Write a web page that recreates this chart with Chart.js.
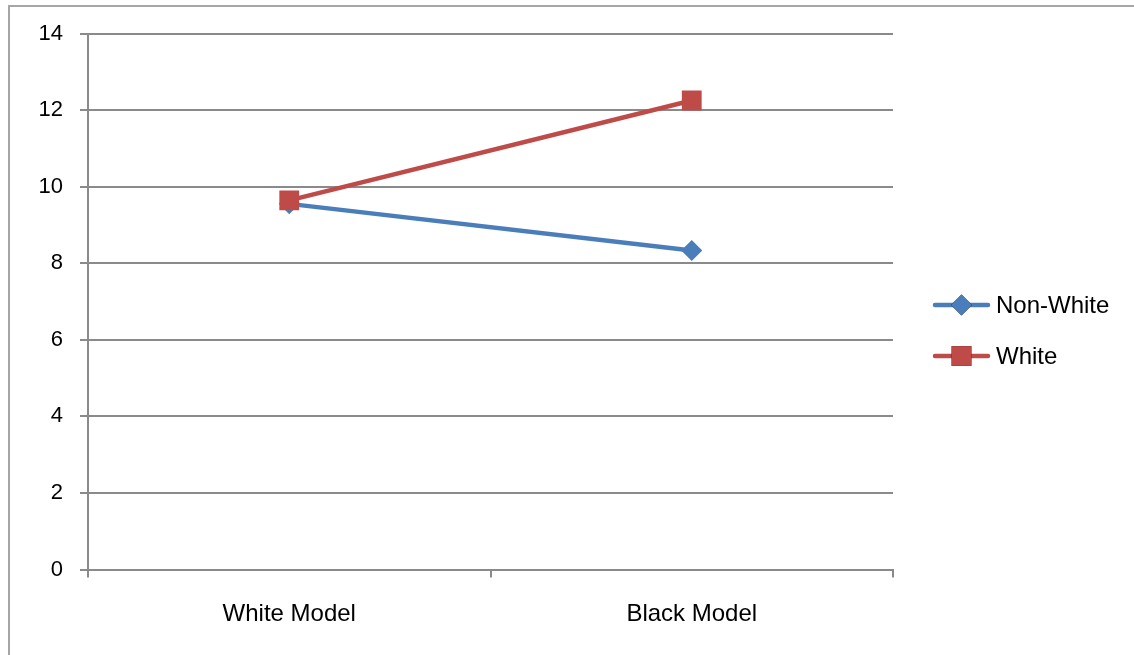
<!DOCTYPE html>
<html>
<head>
<meta charset="utf-8">
<script src="https://cdn.jsdelivr.net/npm/chart.js@4.4.1/dist/chart.umd.min.js"></script>
<style>
  body { margin: 0; background: #fff; }
  #wrap { position: relative; width: 1134px; height: 655px; overflow: hidden; }
  #frame {
    position: absolute; left: 8px; top: 5px; width: 1200px; height: 700px;
    border-left: 2px solid #a6a6a6; border-top: 2px solid #a6a6a6;
  }
  #chart { position: absolute; left: 0; top: 0; }
</style>
</head>
<body>
<div id="wrap">
  <div id="frame"></div>
  <canvas id="chart" width="1134" height="655"></canvas>
</div>
<script>
const categories = ['White Model', 'Black Model'];
const nonWhite = [9.55, 8.33];
const white = [9.64, 12.25];
const seriesNames = ['Non-White', 'White'];
const yTicks = [0, 2, 4, 6, 8, 10, 12, 14];

const gridColor = '#8a8a8a';

// legend on the right: line sample with the marker in the middle
const sideLegend = {
  id: 'sideLegend',
  afterDraw(chart) {
    const ctx = chart.ctx;
    const rows = [305, 356];
    chart.data.datasets.forEach((ds, i) => {
      const y = rows[i];
      ctx.save();
      ctx.strokeStyle = ds.borderColor;
      ctx.lineWidth = ds.borderWidth;
      ctx.lineCap = 'round';
      ctx.beginPath();
      ctx.moveTo(935, y);
      ctx.lineTo(988, y);
      ctx.stroke();
      Chart.helpers.drawPoint(ctx, {
        pointStyle: ds.pointStyle,
        radius: ds.pointRadius,
        borderWidth: 0
      }, 961.5, y);
      ctx.fillStyle = ds.backgroundColor;
      ctx.fill();
      ctx.fillStyle = '#000';
      ctx.font = '24px "Liberation Sans"';
      ctx.textBaseline = 'middle';
      ctx.fillText(ds.label, 996, y + 1);
      ctx.restore();
    });
  }
};

new Chart(document.getElementById('chart'), {
  type: 'line',
  data: {
    labels: categories,
    datasets: [
      {
        label: seriesNames[0],
        data: nonWhite,
        borderColor: '#4a7ebb',
        backgroundColor: '#4a7ebb',
        borderWidth: 4.5,
        pointStyle: 'rectRot',
        pointRadius: 10.5,
        pointBorderWidth: 0,
        order: 1
      },
      {
        label: seriesNames[1],
        data: white,
        borderColor: '#be4b48',
        backgroundColor: '#be4b48',
        borderWidth: 4.5,
        pointStyle: 'rect',
        pointRadius: 14,
        pointBorderWidth: 0,
        order: 0
      }
    ]
  },
  options: {
    responsive: false,
    animation: false,
    layout: { padding: { left: 0, top: 33.5, right: 241, bottom: 0 } },
    plugins: {
      legend: { display: false },
      tooltip: { enabled: false }
    },
    scales: {
      x: {
        offset: true,
        grid: {
          offset: true,
          drawOnChartArea: false,
          drawTicks: true,
          tickLength: 8,
          color: gridColor,
          lineWidth: 2
        },
        border: { color: gridColor, width: 2 },
        ticks: {
          color: '#000',
          font: { family: 'Liberation Sans', size: 24 },
          padding: 22,
          maxRotation: 0
        },
        afterFit(scale) { scale.height = 85.5; }
      },
      y: {
        min: 0,
        max: 14,
        afterBuildTicks(scale) { scale.ticks = yTicks.map(v => ({ value: v })); },
        grid: {
          color: gridColor,
          lineWidth: 2,
          drawTicks: true,
          tickLength: 8
        },
        border: { color: gridColor, width: 2 },
        ticks: {
          color: '#000',
          font: { family: 'Liberation Sans', size: 22 },
          padding: 17
        },
        afterFit(scale) { scale.width = 88; }
      }
    }
  },
  plugins: [sideLegend]
});
</script>
</body>
</html>
